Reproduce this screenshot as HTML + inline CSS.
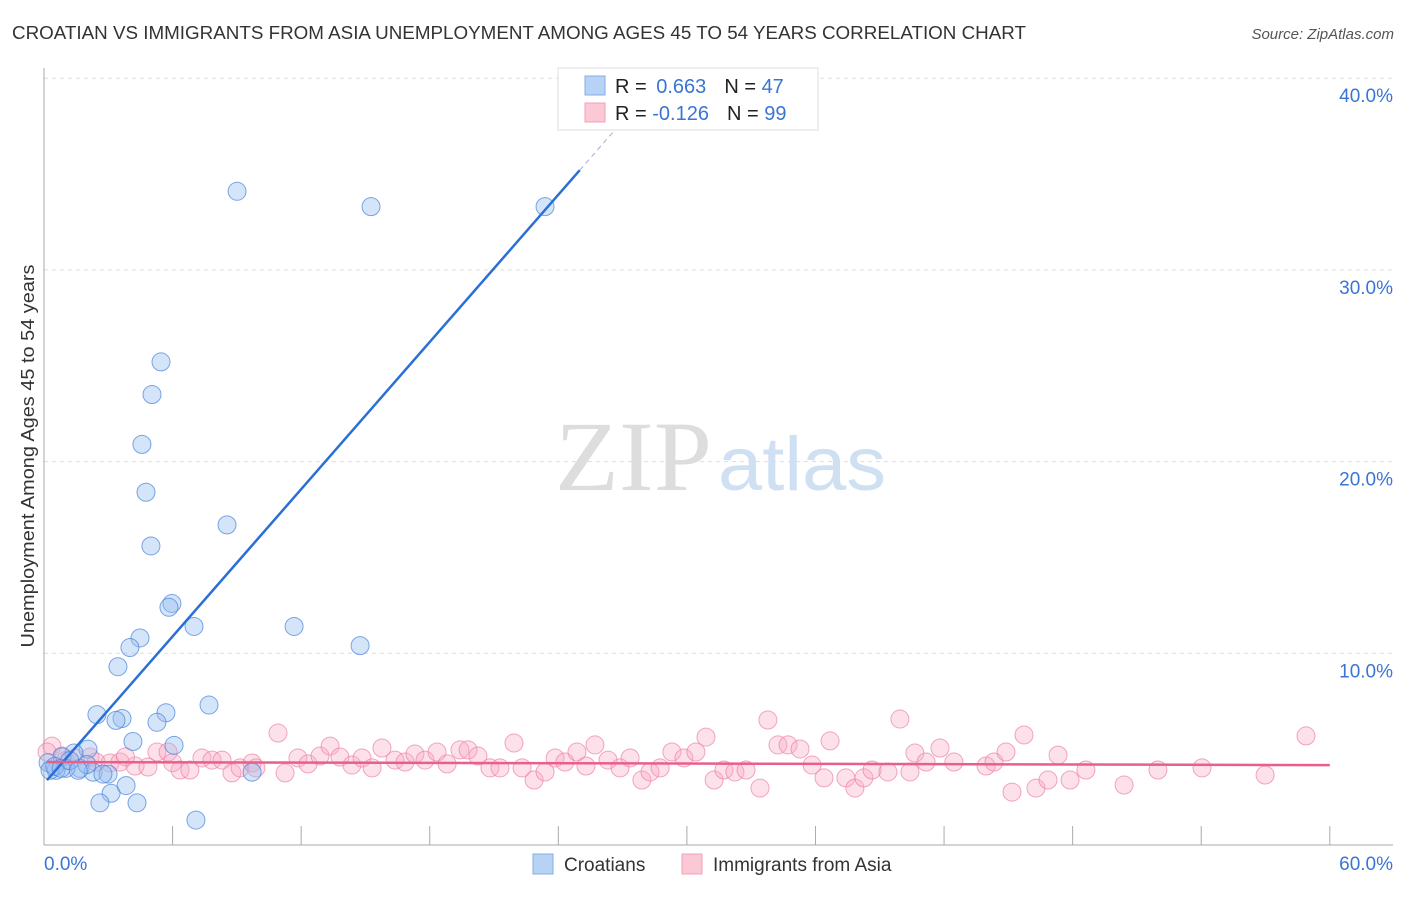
<!DOCTYPE html>
<html><head><meta charset="utf-8"><style>
body{margin:0;background:#fff;font-family:"Liberation Sans",sans-serif}
svg text{font-family:"Liberation Sans",sans-serif}
</style></head><body>
<svg id="chart" width="1406" height="892">
<text x="12" y="39" font-size="18" fill="#333" textLength="1014" lengthAdjust="spacingAndGlyphs">CROATIAN VS IMMIGRANTS FROM ASIA UNEMPLOYMENT AMONG AGES 45 TO 54 YEARS CORRELATION CHART</text>
<text x="1394" y="39" font-size="15" fill="#555" font-style="italic" text-anchor="end">Source: ZipAtlas.com</text>
<text x="555" y="490" font-size="100" fill="#ddd" textLength="157" lengthAdjust="spacingAndGlyphs" style="font-family:'Liberation Serif',serif">ZIP</text>
<text x="718" y="490" font-size="76" fill="#cfe0f3" textLength="168" lengthAdjust="spacingAndGlyphs">atlas</text>
<text transform="translate(34,456) rotate(-90)" font-size="18" fill="#333" text-anchor="middle" textLength="383" lengthAdjust="spacingAndGlyphs">Unemployment Among Ages 45 to 54 years</text>
<g id="grid"></g><g id="pts"></g><g id="lines"></g>
<g>
<rect x="558" y="68" width="260" height="62" fill="#fff" stroke="#ddd"/>
<rect x="585" y="76" width="20" height="19" fill="#b7d2f4" stroke="#86aee6"/>
<rect x="585" y="103" width="20" height="19" fill="#fbc9d6" stroke="#f0a0b8"/>
<text x="615" y="93" font-size="20" fill="#222">R = <tspan fill="#3a75d4" dx="4">0.663</tspan><tspan dx="18" fill="#222">N = </tspan><tspan fill="#3a75d4">47</tspan></text>
<text x="615" y="120" font-size="20" fill="#222">R = <tspan fill="#3a75d4">-0.126</tspan><tspan dx="18" fill="#222">N = </tspan><tspan fill="#3a75d4">99</tspan></text>
</g>
<g>
<rect x="533" y="854" width="20" height="20" fill="#b7d2f4" stroke="#86aee6"/>
<text x="564" y="871" font-size="19" fill="#333">Croatians</text>
<rect x="682" y="854" width="20" height="20" fill="#fbc9d6" stroke="#f0a0b8"/>
<text x="713" y="871" font-size="19" fill="#333">Immigrants from Asia</text>
</g>
</svg>
<script>
const yTicks=[10,20,30,40];
const xTickLabels=["0.0%","60.0%"];
const blueX=[9.01,15.26,23.38,5.46,5.04,4.57,4.76,8.54,4.99,5.97,5.83,7.0,11.67,14.75,4.48,4.01,3.45,7.7,5.69,2.47,3.64,3.36,5.27,4.15,6.07,2.05,1.4,0.84,0.19,1.68,1.03,0.56,0.28,2.29,2.99,2.75,3.13,3.83,2.61,4.34,9.71,7.09,0.5,0.8,1.2,2.0,1.6];
const blueY=[34.1,33.3,33.3,25.2,23.5,20.9,18.4,16.7,15.6,12.6,12.4,11.4,11.4,10.4,10.8,10.3,9.3,7.3,6.9,6.8,6.6,6.5,6.4,5.4,5.2,5.0,4.8,4.6,4.3,4.0,4.0,3.9,3.9,3.8,3.7,3.7,2.7,3.1,2.2,2.2,3.8,1.3,4.1,4.0,4.4,4.2,3.9];
const pinkX=[0.37,0.14,0.84,1.45,2.15,2.43,3.08,3.55,4.25,4.85,5.27,5.79,6.35,6.81,7.37,7.84,8.31,8.77,9.15,9.71,9.89,10.92,11.25,11.85,12.32,12.88,13.35,13.81,14.37,14.84,15.31,15.77,16.38,16.85,17.31,17.78,18.34,18.81,19.41,19.79,20.25,20.81,21.28,21.93,22.31,22.87,23.38,23.85,24.31,24.87,25.29,25.71,26.32,26.88,27.35,27.90,28.28,28.75,29.30,29.86,30.42,30.89,31.27,31.73,32.24,32.76,33.41,33.78,34.25,34.72,35.28,35.84,36.40,36.68,37.42,37.84,38.26,38.64,39.38,39.94,40.41,40.64,41.16,41.81,42.46,43.96,44.33,44.89,45.17,45.73,46.29,46.85,47.32,47.88,48.62,50.40,51.98,54.04,56.98,58.89,1.0,3.8,6.0];
const pinkY=[5.16,4.85,4.64,4.54,4.59,4.33,4.28,4.33,4.12,4.07,4.85,4.85,3.91,3.91,4.54,4.43,4.43,3.76,4.02,4.28,4.02,5.84,3.76,4.54,4.23,4.64,5.16,4.59,4.17,4.54,4.02,5.06,4.43,4.33,4.75,4.43,4.85,4.23,4.96,4.96,4.64,4.02,4.02,5.32,4.02,3.39,3.81,4.54,4.33,4.85,4.12,5.22,4.43,4.02,4.54,3.39,3.81,4.02,4.85,4.54,4.85,5.63,3.39,3.91,3.81,3.91,2.97,6.52,5.22,5.22,5.01,4.17,3.50,5.43,3.50,2.97,3.50,3.91,3.81,6.57,3.81,4.80,4.33,5.06,4.33,4.12,4.33,4.85,2.76,5.74,2.97,3.39,4.69,3.39,3.91,3.13,3.91,4.02,3.65,5.69,4.4,4.6,4.3];
const blueLine={b0:3.2,b1:1.28,end:25.0,dashEnd:27.9};
const pinkLine={b0:4.33,b1:-0.0027};
const X=v=>44+v*21.43, Y=v=>845-v*19.17;
const NS="http://www.w3.org/2000/svg";
function mk(tag,attrs,parent){const e=document.createElementNS(NS,tag);for(const k in attrs)e.setAttribute(k,attrs[k]);parent.appendChild(e);return e;}
const grid=document.getElementById('grid');
yTicks.forEach(t=>{
 const l=mk('line',{x1:44,x2:1393,y1:Y(t),y2:Y(t),stroke:'#ddd','stroke-dasharray':'4,4'},grid);
 
 
 const tx=mk('text',{x:1393,y:Y(t)+24,'font-size':19,fill:'#3a75d4','text-anchor':'end'},grid);
 tx.textContent=t.toFixed(1)+'%';
 
 
});
const ax=mk('line',{x1:44,x2:44,y1:68,y2:845,stroke:'#aaa'},grid);


const bx=mk('line',{x1:44,x2:1393,y1:845,y2:845,stroke:'#aaa'},grid);


for(let i=1;i<=10;i++){const t=mk('line',{x1:X(i*6),x2:X(i*6),y1:826,y2:845,stroke:'#aaa'},grid);
 
 }
[[0,'start',44],[60,'end',1393]].forEach((d,i)=>{const t=mk('text',{x:d[2],y:870,'font-size':19,fill:'#3a75d4','text-anchor':d[1]},grid);t.textContent=xTickLabels[i];
 
 });
const pts=document.getElementById('pts');
pinkX.forEach((x,i)=>{const c=mk('circle',{cx:X(x),cy:Y(pinkY[i]),r:9,fill:'rgba(248,170,195,0.35)',stroke:'rgba(236,130,165,0.7)','stroke-width':1},pts);
 
 });
blueX.forEach((x,i)=>{const c=mk('circle',{cx:X(x),cy:Y(blueY[i]),r:9,fill:'rgba(150,190,240,0.4)',stroke:'rgba(70,130,220,0.7)','stroke-width':1},pts);
 
 });
const lines=document.getElementById('lines');
const x0=0.14;
const bl=mk('line',{x1:X(x0),y1:Y(blueLine.b0+blueLine.b1*x0),x2:X(blueLine.end),y2:Y(blueLine.b0+blueLine.b1*blueLine.end),stroke:'#2a6fd6','stroke-width':2.5},lines);


const bd=mk('line',{x1:X(blueLine.end),y1:Y(blueLine.b0+blueLine.b1*blueLine.end),x2:X(blueLine.dashEnd),y2:Y(blueLine.b0+blueLine.b1*blueLine.dashEnd),stroke:'#aac','stroke-width':1,'stroke-dasharray':'5,4'},lines);


const pl=mk('line',{x1:X(x0),y1:Y(pinkLine.b0+pinkLine.b1*x0),x2:X(60),y2:Y(pinkLine.b0+pinkLine.b1*60),stroke:'#e8608a','stroke-width':2.5},lines);


</script>
</body></html>
